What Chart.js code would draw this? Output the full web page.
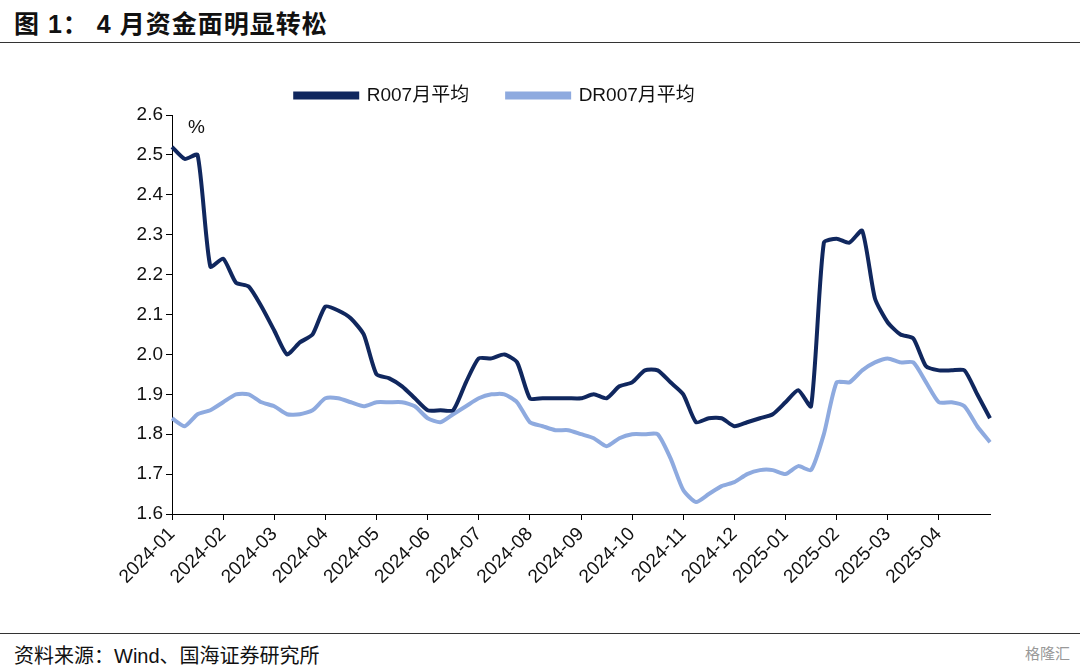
<!DOCTYPE html>
<html><head><meta charset="utf-8">
<script src="https://cdn.jsdelivr.net/npm/chart.js@4"></script>
<style>
body{margin:0;width:1080px;height:667px;background:#fff;font-family:"Liberation Sans","Noto Sans CJK SC",sans-serif;position:relative;overflow:hidden}
#title{position:absolute;left:14px;top:4px;font-size:25px;font-weight:bold;color:#111;letter-spacing:1px}
#top{position:absolute;left:0;top:42px;width:1080px;border-top:1px solid #333}
#bot{position:absolute;left:0;top:633px;width:1080px;border-top:1px solid #333}
#src{position:absolute;left:14px;top:640px;font-size:20px;color:#111}
#wm{position:absolute;right:10px;top:642px;font-size:15px;color:#999}
#box{position:absolute;left:0;top:48px;width:1080px;height:580px}
</style></head><body>
<div id="title">图 1： 4 月资金面明显转松</div>
<div id="top"></div>
<div id="box"><canvas id="c"></canvas></div>
<div id="bot"></div>
<div id="src">资料来源：Wind、国海证券研究所</div>
<div id="wm">格隆汇</div>
<script>
// weekly points, 4 per month from 2024-01
var months = ["2024-01","2024-02","2024-03","2024-04","2024-05","2024-06","2024-07","2024-08",
  "2024-09","2024-10","2024-11","2024-12","2025-01","2025-02","2025-03","2025-04",""];
var r007 = [2.52,2.49,2.50,2.22, 2.24,2.18,2.17,2.12, 2.06,2.00,2.03,2.05, 2.12,2.11,2.09,2.05,
  1.95,1.94,1.92,1.89, 1.86,1.86,1.86,1.93, 1.99,1.99,2.00,1.98, 1.89,1.89,1.89,1.89,
  1.89,1.90,1.89,1.92, 1.93,1.96,1.96,1.93, 1.90,1.83,1.84,1.84, 1.82,1.83,1.84,1.85,
  1.88,1.91,1.87,2.28, 2.29,2.28,2.31,2.14, 2.08,2.05,2.04,1.97, 1.96,1.96,1.96,1.90, 1.84];
var dr007 = [1.84,1.82,1.85,1.86, 1.88,1.90,1.90,1.88, 1.87,1.85,1.85,1.86, 1.89,1.89,1.88,1.87,
  1.88,1.88,1.88,1.87, 1.84,1.83,1.85,1.87, 1.89,1.90,1.90,1.88, 1.83,1.82,1.81,1.81,
  1.80,1.79,1.77,1.79, 1.80,1.80,1.80,1.74, 1.66,1.63,1.65,1.67, 1.68,1.70,1.71,1.71,
  1.70,1.72,1.71,1.80, 1.93,1.93,1.96,1.98, 1.99,1.98,1.98,1.93, 1.88,1.88,1.87,1.82, 1.78];
var labels = r007.map(function(v,i){ return months[Math.floor(i/4)]; });

var pct = {
  id:'pct',
  afterDraw:function(ch){
    var c=ch.ctx; c.save();
    c.font='19px "Liberation Sans"'; c.fillStyle='#111';
    c.fillText('%', ch.chartArea.left+16, ch.chartArea.top+13);
    c.restore();
  }
};
var font = {family:'"Liberation Sans","Noto Sans CJK SC"', size:19};
new Chart(document.getElementById('c'), {
  type:'line',
  data:{labels:labels, datasets:[
    {label:'R007月平均', data:r007, borderColor:'#10275e', backgroundColor:'#10275e', borderWidth:4, pointRadius:0, tension:0.2},
    {label:'DR007月平均', data:dr007, borderColor:'#8eaadf', backgroundColor:'#8eaadf', borderWidth:4, pointRadius:0, tension:0.2}
  ]},
  options:{
    responsive:true, maintainAspectRatio:false, animation:false,
    layout:{padding:{left:0,right:90,top:0,bottom:0}},
    plugins:{
      legend:{labels:{color:'#111',font:font,boxWidth:62,boxHeight:4,padding:38}},
      tooltip:{enabled:false}
    },
    scales:{
      x:{
        grid:{display:true,drawOnChartArea:false,tickLength:6,
          color:function(ctx){ return (ctx.index%4===0 && ctx.index<64) ? '#000' : 'rgba(0,0,0,0)'; }},
        border:{color:'#000',width:1},
        afterFit:function(s){ s.height=114; },
        ticks:{color:'#111',font:font,autoSkip:false,maxRotation:45,minRotation:45,
          callback:function(v,i){ return i%4===0 ? labels[i] : ''; }}
      },
      y:{
        min:1.6,max:2.6,
        grid:{display:true,drawOnChartArea:false,color:'#000',tickLength:6},
        border:{color:'#000',width:1},
        afterFit:function(s){ s.width=172; },
        ticks:{stepSize:0.1,color:'#111',font:font,callback:function(v){return v.toFixed(1);}}
      }
    }
  },
  plugins:[pct]
});
</script>
</body></html>
